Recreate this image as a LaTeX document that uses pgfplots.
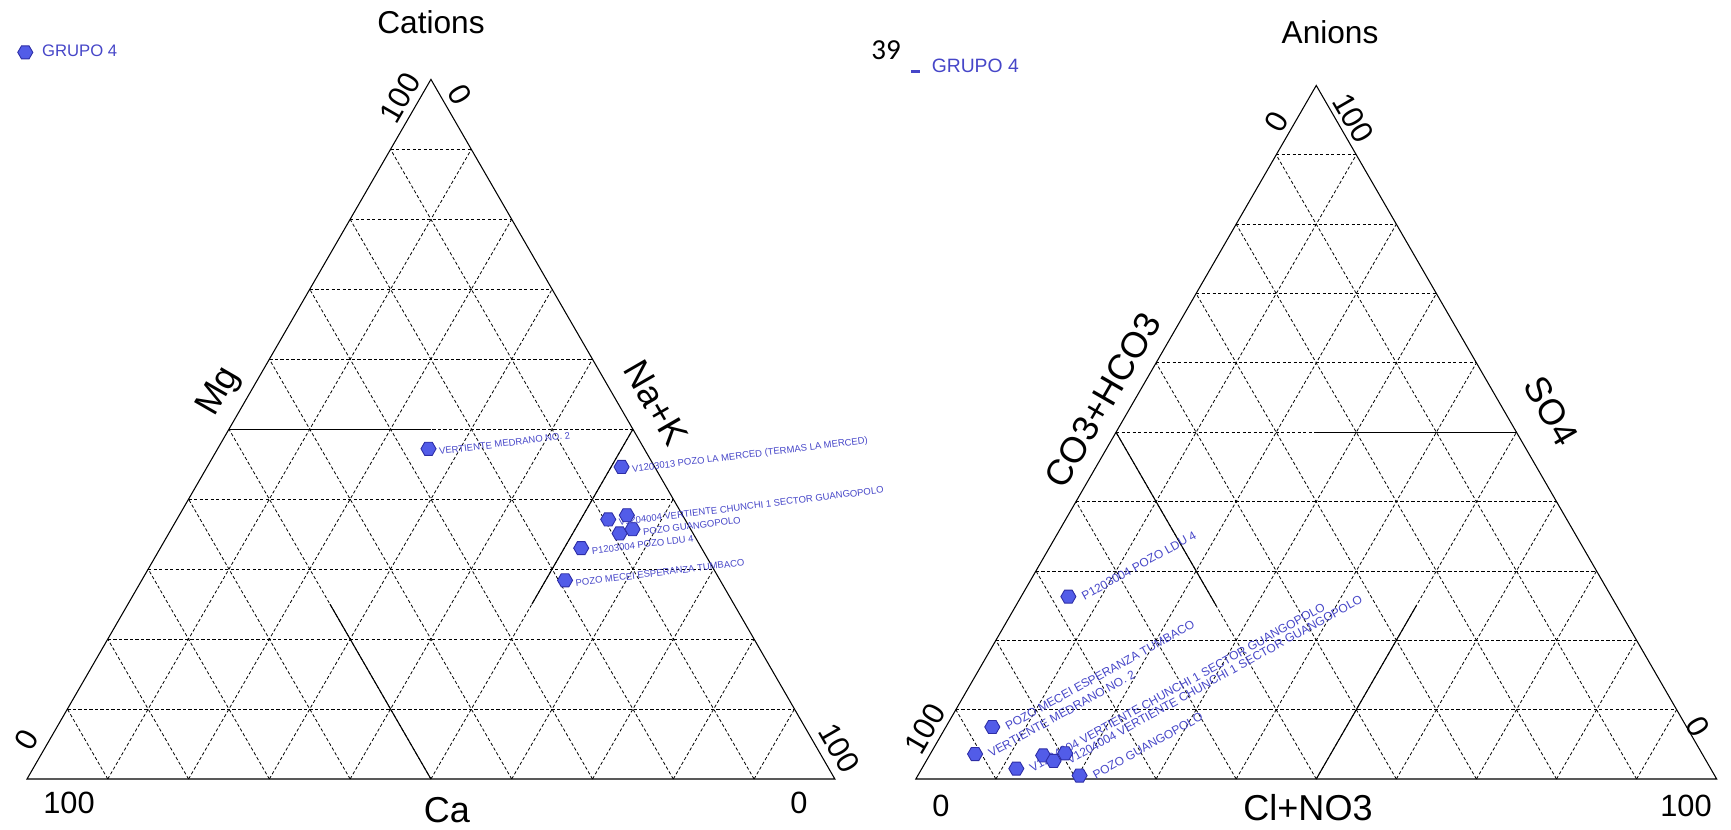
\documentclass[border=0pt]{standalone}
\usepackage{pgfplots}
\pgfplotsset{compat=1.18}
\usepackage{pgfplotstable}
\usepackage{fontspec}
\setmainfont{Liberation Sans}
\newfontfamily\calibri{Carlito}
\definecolor{mk}{RGB}{82,92,232}
\definecolor{mkedge}{RGB}{45,45,165}
\definecolor{lbl}{RGB}{70,70,200}

\pgfdeclareplotmark{hexa}{%
  \pgfpathmoveto{\pgfpointpolar{0}{\pgfplotmarksize}}%
  \pgfpathlineto{\pgfpointpolar{60}{\pgfplotmarksize}}%
  \pgfpathlineto{\pgfpointpolar{120}{\pgfplotmarksize}}%
  \pgfpathlineto{\pgfpointpolar{180}{\pgfplotmarksize}}%
  \pgfpathlineto{\pgfpointpolar{240}{\pgfplotmarksize}}%
  \pgfpathlineto{\pgfpointpolar{300}{\pgfplotmarksize}}%
  \pgfpathclose
  \pgfusepathqfillstroke}

% cation percentages (Ca, Mg, Na+K)
\pgfplotstableread[col sep=comma]{
Ca,Mg,Na,name
26.7,47.2,26.1,VERTIENTE MEDRANO NO. 2
4.1,44.6,51.3,V1203013 POZO LA MERCED (TERMAS LA MERCED)
9.5,37.1,53.4,V1204004 VERTIENTE CHUNCHI 1 SECTOR GUANGOPOLO
6.9,37.7,55.4,{}
9.1,35.1,55.8,{}
7.2,35.7,57.1,POZO GUANGOPOLO
14.9,33.0,52.1,P1203004 POZO LDU 4
19.2,28.4,52.4,POZO MECEI ESPERANZA TUMBACO
}\cations

% anion percentages (CO3+HCO3, SO4, Cl+NO3)
\pgfplotstableread[col sep=comma]{
HCO3,SO4,Cl,name
86.7,7.5,5.8,POZO MECEI ESPERANZA TUMBACO
90.8,3.6,5.6,VERTIENTE MEDRANO NO. 2
86.7,1.5,11.8,V1204004 VERTIENTE CHUNCHI 1 SECTOR GUANGOPOLO
82.4,3.4,14.2,{}
81.5,2.6,15.9,V1204004 VERTIENTE CHUNCHI 1 SECTOR GUANGOPOLO
79.5,3.7,16.8,{}
79.3,0.5,20.2,POZO GUANGOPOLO
67.8,26.3,5.9,P1203004 POZO LDU 4
}\anions

\tikzset{
  gridl/.style={black, line width=0.45pt, dash pattern=on 0.065cm off 0.045cm},
  edge/.style={black, line width=0.6pt},
  num/.style={font=\fontsize{17.5}{19}\selectfont, inner sep=0pt},
  axn/.style={font=\fontsize{20.5}{22}\selectfont, inner sep=0pt},
  ttl/.style={font=\fontsize{18}{20}\selectfont, inner sep=0pt},
}

\newcommand{\tgrid}{%
\draw[gridl] (5,8.660)--(95,8.660);
\draw[gridl] (10,17.321)--(90,17.321);
\draw[gridl] (15,25.981)--(85,25.981);
\draw[gridl] (20,34.641)--(80,34.641);
\draw[gridl] (25,43.301)--(75,43.301);
\draw[gridl] (30,51.962)--(70,51.962);
\draw[gridl] (35,60.622)--(65,60.622);
\draw[gridl] (40,69.282)--(60,69.282);
\draw[gridl] (45,77.942)--(55,77.942);
\draw[gridl] (10,0)--(55,77.942);
\draw[gridl] (20,0)--(60,69.282);
\draw[gridl] (30,0)--(65,60.622);
\draw[gridl] (40,0)--(70,51.962);
\draw[gridl] (50,0)--(75,43.301);
\draw[gridl] (60,0)--(80,34.641);
\draw[gridl] (70,0)--(85,25.981);
\draw[gridl] (80,0)--(90,17.321);
\draw[gridl] (90,0)--(95,8.660);
\draw[gridl] (10,0)--(5,8.660);
\draw[gridl] (20,0)--(10,17.321);
\draw[gridl] (30,0)--(15,25.981);
\draw[gridl] (40,0)--(20,34.641);
\draw[gridl] (50,0)--(25,43.301);
\draw[gridl] (60,0)--(30,51.962);
\draw[gridl] (70,0)--(35,60.622);
\draw[gridl] (80,0)--(40,69.282);
\draw[gridl] (90,0)--(45,77.942);
\draw[edge] (0,0)--(100,0)--(50,86.6025)--cycle;
}

\begin{document}
\begin{tikzpicture}[x=0.02cm,y=0.02cm]
% ---------------- Cations ----------------
\begin{axis}[at={(0.54cm,1.0cm)}, anchor=south west,
  x=0.1616cm, y=0.1616cm, xmin=0, xmax=100, ymin=0, ymax=86.6025,
  hide axis, clip=false, legend cell align=left,
  legend style={at={(-0.0119,1.0386)}, anchor=west, draw=none, fill=none,
    font=\fontsize{9.5}{11}\selectfont, text=lbl, inner sep=0pt}]
\tgrid
\draw[edge] (25,43.301)--(50,43.301);
\draw[edge] (50,0)--(37.5,21.651);
\draw[edge] (75,43.301)--(62.5,21.651);
\addplot[draw=none, forget plot, nodes near coords, point meta=explicit symbolic,
  every node near coord/.append style={anchor=west, rotate=7, inner sep=0pt,
    font=\fontsize{5.4}{6}\selectfont, text=lbl, xshift=0.2cm, yshift=-0.08cm}]
  table[x expr=\thisrow{Na}+0.5*\thisrow{Mg}, y expr=0.8660254*\thisrow{Mg}, meta=name]{\cations};
\addplot[only marks, mark=hexa, mark size=4.3pt,
  mark options={fill=mk, draw=mkedge, line width=0.5pt},
  legend image code/.code={\draw[only marks, mark=hexa, mark size=4.3pt, mark options={fill=mk, draw=mkedge, line width=0.5pt}] plot coordinates {(0cm,0cm)}; \path (0.26cm,0cm);}]
  table[x expr=\thisrow{Na}+0.5*\thisrow{Mg}, y expr=0.8660254*\thisrow{Mg}]{\cations};
\addlegendentry{GRUPO 4}
\end{axis}

% ---------------- Anions ----------------
\begin{axis}[at={(18.32cm,1.0cm)}, anchor=south west,
  x=0.1602cm, y=0.1602cm, xmin=0, xmax=100, ymin=0, ymax=86.6025,
  hide axis, clip=false, legend cell align=left,
  legend style={at={(-0.0081,1.027)}, anchor=west, draw=none, fill=none,
    font=\fontsize{11}{13}\selectfont, text=lbl, inner sep=0pt}]
\tgrid
\draw[edge] (25,43.301)--(37.5,21.651);
\draw[edge] (50,0)--(62.5,21.651);
\draw[edge] (50,43.301)--(75,43.301);
\addplot[draw=none, forget plot, nodes near coords, point meta=explicit symbolic,
  every node near coord/.append style={anchor=west, rotate=29, inner sep=0pt,
    font=\fontsize{6.8}{8}\selectfont, text=lbl, xshift=0.24cm, yshift=-0.14cm}]
  table[x expr=\thisrow{Cl}+0.5*\thisrow{SO4}, y expr=0.8660254*\thisrow{SO4}, meta=name]{\anions};
\addplot[only marks, mark=hexa, mark size=4.3pt,
  mark options={fill=mk, draw=mkedge, line width=0.5pt},
  legend image code/.code={\draw[lbl, line width=0.05cm] (0.21cm,-0.1cm)--(0.39cm,-0.1cm); \path (0.55cm,-0.1cm);}]
  table[x expr=\thisrow{Cl}+0.5*\thisrow{SO4}, y expr=0.8660254*\thisrow{SO4}]{\anions};
\addlegendentry{GRUPO 4}
\end{axis}

% ---------------- texts ----------------
\node[ttl] at (431,807) {Cations};
\node[num] at (69,26) {100};
\node[axn] at (447,19) {Ca};
\node[num] at (799,26) {0};
\node[num, rotate=60] at (27,89) {0};
\node[num, rotate=60] at (400,731) {100};
\node[num, rotate=-60] at (460,734) {0};
\node[num, rotate=-60] at (839,81) {100};
\node[axn, rotate=60] at (220,437) {Mg};
\node[axn, rotate=-60] at (656,426) {Na+K};

\node[font=\calibri\fontsize{16.5}{18}\selectfont, inner sep=0pt] at (886,778.5) {39};
\node[ttl] at (1330,797) {Anions};
\node[num] at (941,23) {0};
\node[axn] at (1308,21) {Cl+NO3};
\node[num] at (1686,23) {100};
\node[num, rotate=60] at (925,100) {100};
\node[num, rotate=60] at (1277,707) {0};
\node[num, rotate=-60] at (1353,711) {100};
\node[num, rotate=-60] at (1698,102) {0};
\node[axn, rotate=60] at (1103,429) {CO3+HCO3};
\node[axn, rotate=-60] at (1551,418) {SO4};

\pgfresetboundingbox
\path[use as bounding box] (0,0) rectangle (1731,829);
\end{tikzpicture}
\end{document}
